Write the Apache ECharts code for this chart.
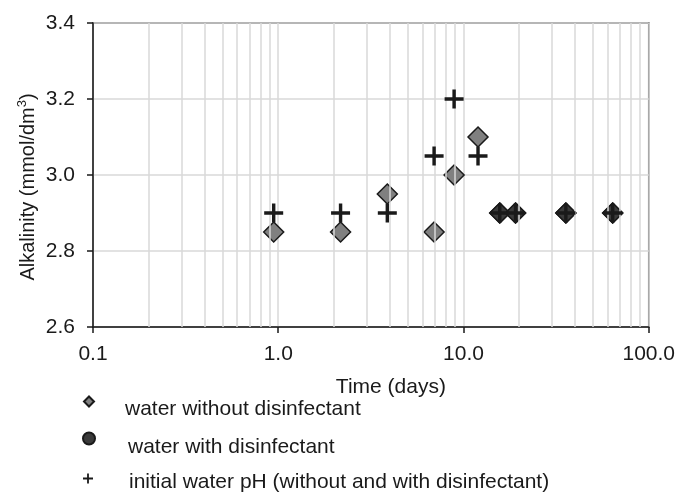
<!DOCTYPE html>
<html>
<head>
<meta charset="utf-8">
<script src="https://cdn.jsdelivr.net/npm/echarts@6/dist/echarts.min.js"></script>
<style>html,body{margin:0;padding:0;background:#fff;}#chart{width:678px;height:492px;}</style>
</head>
<body>
<div id="chart"></div>
<script>
// Data
var daysWithout = [0.945, 2.17, 3.88, 6.94, 8.9, 11.98, 15.7, 19.1, 35.7, 63.9];
var alkWithout  = [2.85, 2.85, 2.95, 2.85, 3.0, 3.1, 2.9, 2.9, 2.9, 2.9];
var daysWith    = [15.7, 19.1, 35.7, 63.9];
var alkWith     = [2.9, 2.9, 2.9, 2.9];
var daysInitial = [0.945, 2.17, 3.88, 6.94, 8.9, 11.98, 15.7, 19.1, 35.7, 63.9];
var alkInitial  = [2.9, 2.9, 2.9, 3.05, 3.2, 3.05, 2.9, 2.9, 2.9, 2.9];
var minorGridX  = [0.2,0.3,0.4,0.5,0.6,0.7,0.8,0.9, 2,3,4,5,6,7,8,9, 20,30,40,50,60,70,80,90];
var yTicks = {min: 2.6, max: 3.4, interval: 0.2};
var xRange = {min: 0.1, max: 100};
var legendNames = ['water without disinfectant', 'water with disinfectant', 'initial water pH (without and with disinfectant)'];

function pairs(xs, ys) { return xs.map(function (x, i) { return [x, ys[i]]; }); }

var plusPath = 'path://M4.1,0H5.9V10H4.1Z M0,4.1H10V5.9H0Z';
var fontFam = 'Liberation Sans, Arial, sans-serif';
var txt = '#1a1a1a';
var gridCol = '#d9d9d9';
var fs = 21;

function legendFor(idx, icon, iconCenterY, textDrop, indent, size) {
  var lh = 20;
  return {
    orient: 'vertical', left: 88 - size / 2, top: iconCenterY - (lh + 2 * textDrop) / 2,
    padding: 0, itemGap: 0,
    itemWidth: size, itemHeight: size,
    formatter: function (name) { return '{t|' + name + '}'; },
    textStyle: {fontSize: fs, color: txt, fontFamily: fontFam,
      rich: {t: {fontSize: fs, color: txt, fontFamily: fontFam, lineHeight: lh,
        padding: [2 * textDrop, 0, 0, indent]}}},
    data: [{name: legendNames[idx], icon: icon}],
    selectedMode: false
  };
}

var chart = echarts.init(document.getElementById('chart'), null, {renderer: 'canvas'});
chart.setOption({
  animation: false,
  backgroundColor: '#ffffff',
  textStyle: {fontFamily: fontFam},
  grid: {left: 93, right: 28, top: 23, bottom: 165, show: true, borderColor: txt, borderWidth: 1.5, backgroundColor: 'transparent'},
  xAxis: {
    type: 'log', logBase: 10, min: xRange.min, max: xRange.max,
    name: 'Time (days)', nameLocation: 'middle', nameGap: 50,
    nameTextStyle: {fontSize: fs, color: txt, fontFamily: fontFam, padding: [0, 0, 0, 40]},
    axisLine: {show: true, lineStyle: {color: txt, width: 1.5}},
    axisTick: {show: true, inside: false, length: 6, lineStyle: {color: txt, width: 1.5}},
    axisLabel: {fontSize: fs, color: txt, margin: 17, fontFamily: fontFam,
      formatter: function (v) { return Number(v).toFixed(1); }},
    splitLine: {show: true, lineStyle: {color: gridCol, width: 1.5}},
    minorTick: {show: false}, minorSplitLine: {show: false}
  },
  yAxis: {
    type: 'value', min: yTicks.min, max: yTicks.max, interval: yTicks.interval,
    name: 'Alkalinity (mmol/dm{sup|3})', nameLocation: 'middle', nameGap: 52, nameRotate: 90,
    nameMoveOverlap: false,
    nameTextStyle: {fontSize: 20, color: txt, fontFamily: fontFam, padding: [0, 24, 0, 0],
      rich: {sup: {fontSize: 13, color: txt, fontFamily: fontFam, padding: [0, 0, 12, 0]}}},
    axisLine: {show: true, lineStyle: {color: txt, width: 1.5}},
    axisTick: {show: true, inside: false, length: 6, lineStyle: {color: txt, width: 1.5}},
    axisLabel: {fontSize: fs, color: txt, margin: 18, fontFamily: fontFam,
      formatter: function (v) { return Number(v).toFixed(1); }},
    splitLine: {show: true, lineStyle: {color: gridCol, width: 1.5}}
  },
  legend: [
    legendFor(0, 'diamond', 401, 8, 26, 10),
    legendFor(1, 'circle', 438, 9, 28, 12),
    legendFor(2, plusPath, 478, 4, 31, 10)
  ],
  series: [
    {
      type: 'scatter', name: '_minorgrid', data: [], silent: true, z: 1,
      markLine: {
        silent: true, symbol: 'none', label: {show: false},
        lineStyle: {color: gridCol, width: 1.5, type: 'solid'},
        data: minorGridX.map(function (v) { return {xAxis: v}; })
      }
    },
    {
      type: 'scatter', name: legendNames[0], data: pairs(daysWithout, alkWithout),
      symbol: 'diamond', symbolSize: 20, z: 3,
      itemStyle: {color: '#808080', borderColor: txt, borderWidth: 1.5, opacity: 1}
    },
    {
      type: 'scatter', name: legendNames[1], data: pairs(daysWith, alkWith),
      symbol: 'diamond', symbolSize: 20, z: 4,
      itemStyle: {color: '#3a3a3a', borderColor: txt, borderWidth: 1.5, opacity: 1}
    },
    {
      type: 'scatter', name: legendNames[2], data: pairs(daysInitial, alkInitial),
      symbol: plusPath, symbolSize: 19, z: 5,
      itemStyle: {color: txt, opacity: 1}
    }
  ]
});
</script>
</body>
</html>
